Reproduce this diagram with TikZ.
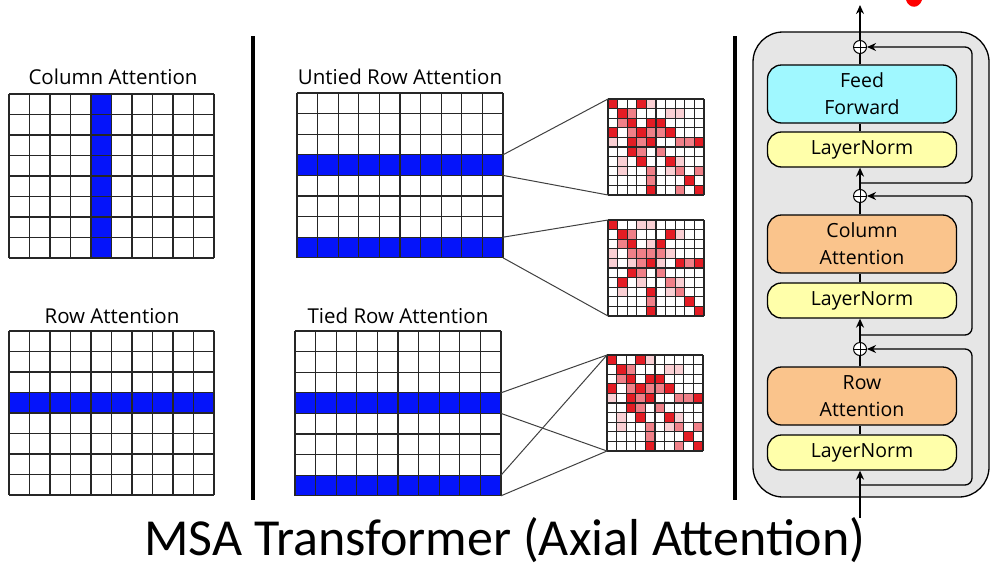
\documentclass[tikz,border=0pt]{standalone}
\usepackage{fontspec}
\setmainfont{Open Sans}
\newfontfamily\titlefont{Carlito}
\usepackage{tikz}
\usetikzlibrary{arrows.meta}

\definecolor{rowblue}{RGB}{5,20,250}
\definecolor{hotred}{RGB}{228,28,36}
\definecolor{midred}{RGB}{240,128,136}
\definecolor{palered}{RGB}{250,208,212}
\definecolor{ffcyan}{RGB}{160,248,255}
\definecolor{attorange}{RGB}{250,196,140}
\definecolor{lnyellow}{RGB}{255,255,170}
\definecolor{panelgray}{RGB}{230,230,230}

\newcommand{\attgrid}[5]{
    \begin{scope}[shift={(#1,#2)}]
        \foreach \i in {0,...,#3} \draw[gridline] (\i*#5,0) -- (\i*#5,#4*#5);
        \foreach \j in {0,...,#4} \draw[gridline] (0,\j*#5) -- (#3*#5,\j*#5);
    \end{scope}
}
\newcommand{\bluerow}[4]{
    \fill[rowblue] (#1,#2+#4*#3) rectangle ++(10*#3,#3);
}
\newcommand{\heatmap}[3]{
    \foreach \r/\c/\k in #3 {
        \fill[\k] (#1+\c*9.6,#2+\r*9.6) rectangle ++(9.6,9.6);
    }
    \attgrid{#1}{#2}{10}{10}{9.6}
}
\def\heatA{0/0/hotred,0/3/hotred,0/4/palered,
    1/1/hotred,1/2/midred,1/6/palered,1/7/palered,
    2/1/midred,2/2/hotred,2/4/hotred,2/5/hotred,
    3/0/hotred,3/2/midred,3/3/hotred,3/4/midred,3/5/midred,3/6/hotred,
    4/0/palered,4/2/hotred,4/3/midred,4/4/hotred,4/7/midred,4/8/midred,4/9/hotred,
    5/2/hotred,5/3/midred,5/5/midred,
    6/1/palered,6/3/hotred,6/6/hotred,6/7/palered,
    7/1/palered,7/4/midred,7/6/palered,7/7/midred,7/9/midred,
    8/4/midred,8/8/hotred,
    9/4/hotred,9/7/midred,9/9/hotred}
\def\heatB{0/0/hotred,0/3/palered,0/4/palered,
    1/1/hotred,1/2/midred,1/6/hotred,1/7/palered,
    2/1/midred,2/2/hotred,2/4/palered,2/5/hotred,
    3/0/palered,3/2/midred,3/3/midred,3/4/midred,3/5/midred,3/6/palered,
    4/0/palered,4/2/palered,4/3/midred,4/4/hotred,4/5/palered,4/7/hotred,4/8/midred,4/9/hotred,
    5/2/hotred,5/3/midred,5/5/midred,
    6/1/hotred,6/3/palered,6/6/midred,6/7/palered,
    7/1/palered,7/4/hotred,7/6/palered,7/7/midred,
    8/4/midred,8/8/hotred,
    9/4/hotred,9/9/hotred}

\begin{document}
\begin{tikzpicture}[x=1pt,y=-1pt,
        gridline/.style={line width=1.1pt, draw=black!85},
        zoomline/.style={line width=1pt, draw=black!75},
        label/.style={font=\fontsize{20.5}{24}\selectfont, anchor=base},
        block/.style={draw, line width=1.3pt, rounded corners=14pt, minimum width=189pt,
            align=center, font=\fontsize{19.5}{27}\selectfont},
        bigblock/.style={block, minimum height=58pt},
        normblock/.style={block, minimum height=35pt, fill=lnyellow},
        sumnode/.style={circle, draw, line width=1pt, fill=white, minimum size=13pt, inner sep=0pt,
            path picture={\draw[line width=0.8pt] (path picture bounding box.north) -- (path picture bounding box.south)
                (path picture bounding box.west) -- (path picture bounding box.east);}},
        flow/.style={line width=1.3pt, -{Stealth[length=9pt,width=8pt]}},
        link/.style={line width=1.3pt}]
    \useasboundingbox (0,0) rectangle (992,570);

    % left panel
    \node[label] (coltitle) at (113,84) {Column Attention};
    \fill[rowblue] (9+4*20.5,94) rectangle ++(20.5,8*20.5);
    \attgrid{9}{94}{10}{8}{20.5}
    \node[label] (rowtitle) at (112,323) {Row Attention};
    \bluerow{9}{331}{20.5}{3}
    \attgrid{9}{331}{10}{8}{20.5}

    \draw[line width=3.5pt] (253,36) -- (253,500);

    % untied rows
    \node[label] (untitle) at (400,84) {Untied Row Attention};
    \bluerow{297}{93}{20.6}{3}
    \bluerow{297}{93}{20.6}{7}
    \attgrid{297}{93}{10}{8}{20.6}
    \heatmap{608}{99}{\heatA}
    \heatmap{608}{220}{\heatB}
    \coordinate (u3a) at (503,154.8);
    \coordinate (u3b) at (503,175.4);
    \coordinate (u7a) at (503,237.2);
    \coordinate (u7b) at (503,257.8);
    \coordinate (ma) at (608,99);
    \coordinate (mb) at (608,195);
    \coordinate (mc) at (608,220);
    \coordinate (md) at (608,316);
    \draw[zoomline] (u3a) -- (ma) (u3b) -- (mb);
    \draw[zoomline] (u7a) -- (mc) (u7b) -- (md);

    % tied rows
    \node[label] (tititle) at (398,323) {Tied Row Attention};
    \bluerow{295}{331}{20.6}{3}
    \bluerow{295}{331}{20.6}{7}
    \attgrid{295}{331}{10}{8}{20.6}
    \heatmap{607}{355}{\heatA}
    \coordinate (t3a) at (501,392.8);
    \coordinate (t3b) at (501,413.4);
    \coordinate (t7a) at (501,475.2);
    \coordinate (t7b) at (501,495.8);
    \coordinate (me) at (607,355);
    \coordinate (mf) at (607,451);
    \draw[zoomline] (t3a) -- (me) (t3b) -- (mf);
    \draw[zoomline] (t7a) -- (me) (t7b) -- (mf);

    \draw[line width=3.5pt] (735,36) -- (735,500);

    % axial block
    \draw[line width=1.3pt, fill=panelgray, rounded corners=30pt] (753,32) rectangle (989,497);
    \node[bigblock, fill=ffcyan] (ff) at (862,94) {Feed\\Forward};
    \node[normblock] (ln1) at (862,149.5) {LayerNorm};
    \node[bigblock, fill=attorange] (ca) at (862,244) {Column\\Attention};
    \node[normblock] (ln2) at (862,300.5) {LayerNorm};
    \node[bigblock, fill=attorange] (ra) at (862,396) {Row\\Attention};
    \node[normblock] (ln3) at (862,452.5) {LayerNorm};
    \node[sumnode] (p1) at (860,47) {};
    \node[sumnode] (p2) at (860,196) {};
    \node[sumnode] (p3) at (860,349) {};
    \coordinate (in) at (860,518);
    \coordinate (out) at (860,5);
    \coordinate (r1) at (860,183);
    \coordinate (r2) at (860,335);
    \coordinate (r3) at (860,485);

    \draw[flow] (in) -- (ln3.south -| in);
    \draw[link] (ln3.north -| in) -- (ra.south -| in);
    \draw[link] (ra.north -| in) -- (p3);
    \draw[flow] (p3) -- (ln2.south -| in);
    \draw[link] (ln2.north -| in) -- (ca.south -| in);
    \draw[link] (ca.north -| in) -- (p2);
    \draw[flow] (p2) -- (ln1.south -| in);
    \draw[link] (ln1.north -| in) -- (ff.south -| in);
    \draw[link] (ff.north -| in) -- (p1);
    \draw[flow] (p1) -- (out);
    \draw[flow, rounded corners=7pt] (r3) -- ++(112,0) |- (p3);
    \draw[flow, rounded corners=7pt] (r2) -- ++(112,0) |- (p2);
    \draw[flow, rounded corners=7pt] (r1) -- ++(112,0) |- (p1);

    \fill[red] (906,0) .. controls (909,9) and (919,9) .. (922,0) -- cycle;

    \node[font=\titlefont\fontsize{52}{60}\selectfont, anchor=base] (title) at (505,555)
        {MSA Transformer (Axial Attention)};
\end{tikzpicture}
\end{document}
